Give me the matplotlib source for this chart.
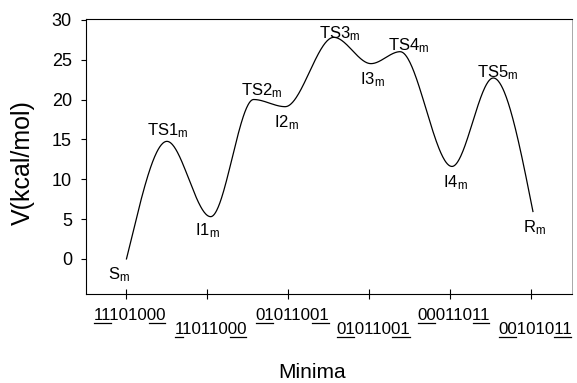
import numpy as np
import matplotlib
matplotlib.use('Agg')
import matplotlib.pyplot as plt
import matplotlib.transforms as mtransforms
from matplotlib.lines import Line2D

plt.rcParams['font.family'] = ['Liberation Sans', 'DejaVu Sans']
plt.rcParams['mathtext.fontset'] = 'custom'
plt.rcParams['mathtext.rm'] = 'Liberation Sans'
plt.rcParams['mathtext.it'] = 'Liberation Sans:italic'

# ---- data (stationary points of the potential-energy path) ----
state_names = ['S', 'TS1', 'I1', 'TS2', 'I2', 'TS3', 'I3', 'TS4', 'I4', 'TS5', 'R']
state_x = [1.00, 1.50, 2.04, 2.57, 2.96, 3.56, 4.02, 4.38, 5.02, 5.53, 6.02]
energies = [0.0, 14.75, 5.3, 20.0, 19.1, 27.8, 24.5, 26.0, 11.6, 22.7, 5.95]

# label anchor positions (data coords)
label_x = [0.91, 1.51, 2.00, 2.67, 2.98, 3.63, 4.04, 4.49, 5.06, 5.59, 6.04]
label_y = [-2.0, 16.1, 3.5, 21.1, 17.1, 28.2, 22.5, 26.8, 9.6, 23.4, 3.9]

minima_pos = [1, 2, 3, 4, 5, 6]
minima_labels = ['11101000', '11011000', '01011001', '01011001', '00011011', '00101011']
minima_underlines = [[(0, 2), (6, 8)], [(0, 1), (6, 8)], [(0, 2), (6, 8)],
                     [(0, 2), (6, 8)], [(0, 2), (6, 8)], [(0, 2), (6, 8)]]

yticks = [0, 5, 10, 15, 20, 25, 30]

# ---- figure ----
fig = plt.figure(figsize=(5.77, 3.83), dpi=100)
ax = fig.add_axes([0.149, 0.2324, 0.842, 0.718])

# smooth curve: cubic Hermite through stationary points (zero slope at extrema)
xs = np.array(state_x)
ys = np.array(energies)
d = np.zeros_like(ys)
d[0] = 1.4 * (ys[1] - ys[0]) / (xs[1] - xs[0])
d[-1] = 1.5 * (ys[-1] - ys[-2]) / (xs[-1] - xs[-2])
cx, cy = [], []
for i in range(len(xs) - 1):
    h = xs[i + 1] - xs[i]
    t = np.linspace(0, 1, 80)
    h00 = 2 * t**3 - 3 * t**2 + 1
    h10 = t**3 - 2 * t**2 + t
    h01 = -2 * t**3 + 3 * t**2
    h11 = t**3 - t**2
    seg = h00 * ys[i] + h10 * h * d[i] + h01 * ys[i + 1] + h11 * h * d[i + 1]
    cx.extend(xs[i] + t * h)
    cy.extend(seg)
ax.plot(cx, cy, color='black', lw=0.9)

for name, lx, ly in zip(state_names, label_x, label_y):
    ax.text(lx, ly, name + r'$_\mathrm{m}$', fontsize=12, ha='center', va='center')

ax.set_xlim(0.5, 6.5)
ax.set_ylim(-4.4, 30.1)
ax.set_yticks(yticks)
ax.set_yticklabels([str(v) for v in yticks], fontsize=13)
ax.set_xticks(minima_pos)
ax.set_xticklabels([])
ax.tick_params(axis='y', direction='out', length=3.6, width=0.8, pad=6.5)
ax.tick_params(axis='x', direction='inout', length=7, width=0.8)

for s in ['left', 'bottom', 'top']:
    ax.spines[s].set_linewidth(0.8)
    ax.spines[s].set_color('black')
ax.spines['right'].set_linewidth(0.6)
ax.spines['right'].set_color('#9a9a9a')

# binary x tick labels with underlines (underline extents measured from rendered text)
renderer = fig.canvas.get_renderer()
probe = fig.text(0, 0, '00000000', fontsize=12)
w12 = probe.get_window_extent(renderer).width / fig.dpi
probe.remove()
fs = 12 * 0.75 / w12
texts = []
for i, (pos, lab) in enumerate(zip(minima_pos, minima_labels)):
    trans = fig.dpi_scale_trans + mtransforms.ScaledTranslation(pos, 0, ax.get_xaxis_transform())
    base = -0.26 if i % 2 == 0 else -0.40
    t = fig.text(-0.33, base, lab, fontsize=fs, ha='left', va='baseline', transform=trans)
    texts.append((t, trans, base))
fig.canvas.draw()
for (t, trans, base), lab, unders in zip(texts, minima_labels, minima_underlines):
    ext = t.get_window_extent(renderer)
    inv = trans.inverted()
    (xl, _), (xr, _) = inv.transform([[ext.x0, ext.y0], [ext.x1, ext.y0]])
    dw = (xr - xl) / len(lab)
    for a, b in unders:
        ln = Line2D([xl + a * dw + 0.008, xl + b * dw - 0.006], [base - 0.03, base - 0.03],
                    transform=trans, color='black', lw=0.9)
        fig.add_artist(ln)

ax.set_ylabel('V(kcal/mol)', fontsize=18)
ax.yaxis.set_label_coords(-0.13, 0.478)
ax.yaxis.label.set_va('center')
ax.set_xlabel('Minima', fontsize=15)
ax.xaxis.set_label_coords(0.465, -0.284)
ax.xaxis.label.set_va('center')

fig.savefig('out.png', dpi=100)
